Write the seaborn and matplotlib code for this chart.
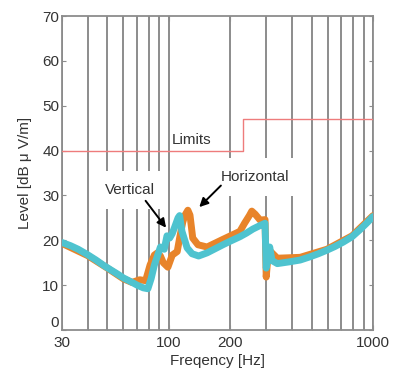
import numpy as np
import pandas as pd
import matplotlib
matplotlib.use("Agg")
import matplotlib.pyplot as plt
import matplotlib.ticker as mticker
import seaborn as sns

# vertical polarisation (cyan)
vert_freq = [30, 33, 36, 40, 44, 48, 52, 56, 60, 65, 70, 75, 79, 82, 85, 88, 91, 95,
             98, 101, 104, 107, 111, 113, 116, 123, 130, 140, 154, 170, 184, 200, 223,
             240, 258, 280, 296, 300, 305, 312, 320, 340, 390, 440, 490, 540, 595,
             650, 715, 790, 860, 930, 1000]
vert_level = [19.5, 18.8, 18.0, 16.8, 15.6, 14.4, 13.4, 12.5, 11.6, 10.8, 10.0, 9.4, 9.2,
              11.5, 14.5, 16.5, 18.5, 18.0, 21.0, 20.5, 21.5, 23.0, 25.0, 25.5, 22.0,
              18.3, 17.0, 16.5, 17.2, 18.2, 19.0, 19.8, 20.8, 21.6, 22.5, 23.3, 23.8,
              13.8, 16.0, 18.5, 15.5, 14.8, 15.2, 15.6, 16.3, 17.0, 17.8, 18.6, 19.6,
              20.8, 22.3, 23.8, 25.3]

# horizontal polarisation (orange)
hor_freq = [30, 40, 50, 60, 66, 72, 77, 81, 85, 88, 91, 94, 99, 104, 110, 113, 117,
            120, 124, 127, 131, 139, 154, 184, 223, 235, 248, 255, 265, 280, 296, 300,
            306, 315, 340, 440, 595, 790, 1000]
hor_level = [19.3, 16.6, 13.8, 11.4, 10.6, 11.2, 11.0, 14.5, 16.7, 17.2, 16.5, 15.0,
             14.0, 16.7, 17.5, 20.5, 24.0, 25.6, 26.7, 25.6, 20.5, 19.0, 18.5, 20.2,
             22.0, 23.8, 25.5, 26.5, 25.8, 24.5, 24.6, 11.8, 16.5, 17.5, 16.0, 16.2,
             18.0, 21.0, 25.5]

limit_freq = [30, 230, 1000]
limit_level = [40, 47, 47]

x_major = [30, 100, 200, 1000]
x_minor = [40, 50, 60, 70, 80, 90, 300, 400, 500, 600, 700, 800, 900]
y_ticks = [0, 10, 20, 30, 40, 50, 60, 70]

sns.set_style("white")
plt.rcParams["font.family"] = ["Liberation Sans", "DejaVu Sans"]

fig = plt.figure(figsize=(3.93, 3.69), dpi=100)
ax = fig.add_axes([62 / 393, 39 / 369, 311 / 393, 314 / 369])

df_v = pd.DataFrame({"freq": vert_freq, "level": vert_level})
df_h = pd.DataFrame({"freq": hor_freq, "level": hor_level})
df_l = pd.DataFrame({"freq": limit_freq, "level": limit_level})

sns.lineplot(data=df_l, x="freq", y="level", ax=ax, color="#ee7c7c", lw=1.0,
             drawstyle="steps-post", zorder=3)
sns.lineplot(data=df_h, x="freq", y="level", ax=ax, color="#e8842a", lw=5.0,
             zorder=4)
sns.lineplot(data=df_v, x="freq", y="level", ax=ax, color="#4ec3cf", lw=5.0,
             zorder=5)

ax.set_xscale("log")
ax.set_xlim(30, 1000)
ax.set_ylim(0, 70)
ax.xaxis.set_major_locator(mticker.FixedLocator(x_major))
ax.xaxis.set_major_formatter(mticker.FixedFormatter([str(v) for v in x_major]))
ax.xaxis.set_minor_locator(mticker.FixedLocator(x_minor))
ax.xaxis.set_minor_formatter(mticker.NullFormatter())
ax.set_yticks(y_ticks)

ax.grid(True, which="both", axis="x", color="#8c8c8c", lw=1.4)
ax.grid(False, axis="y")
ax.set_axisbelow(True)
for s in ax.spines.values():
    s.set_color("#8c8c8c")
    s.set_linewidth(1.3)
ax.tick_params(which="both", direction="in", top=True, right=True, bottom=True,
               left=True, color="#8c8c8c", labelsize=11, labelcolor="#333333", pad=4)
ax.tick_params(axis="y", pad=2, length=3)
# the "0" sits just above the corner, as in the original
ax.get_yticklabels()[0].set_verticalalignment("bottom")

ax.set_xlabel("Freqency [Hz]", fontsize=11, color="#333333", labelpad=3)
ax.set_ylabel("Level [dB μ V/m]", fontsize=11, color="#333333", labelpad=7)

ax.text(130, 42.4, "Limits", fontsize=11, color="#333333", ha="center", va="center",
        zorder=6)
box = dict(boxstyle="square,pad=0.8", fc="white", ec="none")
ax.text(64.6, 31.2, "Vertical", fontsize=11, color="#333333", ha="center",
        va="center", bbox=box, zorder=6)
ax.text(265, 34.1, "Horizontal", fontsize=11, color="#333333", ha="center",
        va="center", bbox=box, zorder=6)

arrow = dict(arrowstyle="-|>", color="black", lw=1.4, mutation_scale=13,
             shrinkA=0, shrinkB=0)
ax.annotate("", xy=(97, 22.8), xytext=(77, 28.8), arrowprops=arrow, zorder=7)
ax.annotate("", xy=(141, 27.4), xytext=(180, 32.2), arrowprops=arrow, zorder=7)

fig.savefig("out.png", dpi=100)
